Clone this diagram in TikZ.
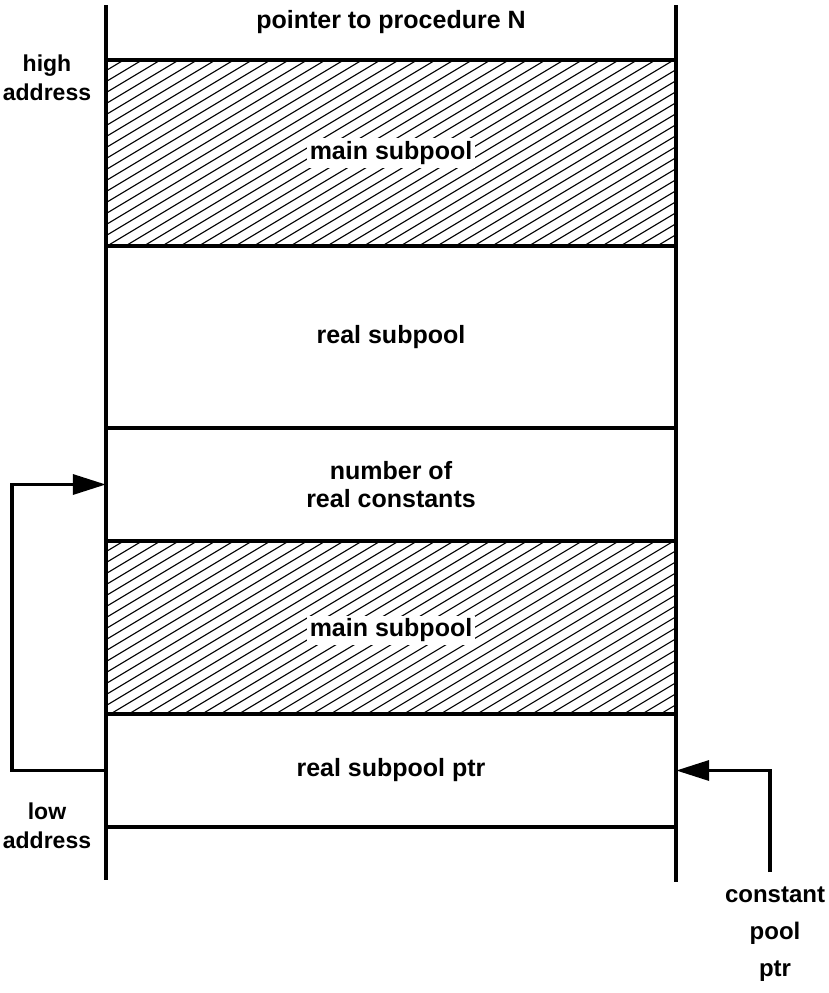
\documentclass[tikz,border=0pt]{standalone}
\usepackage{fontspec}
\setmainfont{Liberation Sans}
\usetikzlibrary{arrows.meta}
\begin{document}
\begin{tikzpicture}[x=1pt,y=-1pt,
    font=\fontsize{25}{28}\selectfont\bfseries,
    wall/.style={line width=3.5pt},
    hatch/.style={line width=1.1pt},
    cell/.style={minimum width=570pt, inner sep=0pt, align=center},
    patchtext/.style={fill=white, inner sep=3pt},
    ptr/.style={line width=3.5pt, -{Triangle[length=33pt,width=20pt]}},
    side/.style={align=center, inner sep=0pt, font=\fontsize{23}{29}\selectfont\bfseries}]
    \useasboundingbox (0,0) rectangle (828,993);

    % memory cells, top to bottom
    \node[cell, minimum height=55] (top) at (391,32) {};
    \node at (391,22) {pointer to procedure N};
    \node[cell, minimum height=186] (main1) at (391,153) {};
    \node[cell, minimum height=182] (real) at (391,337) {real subpool};
    \node[cell, minimum height=113] (num) at (391,484.5) {number of\\real constants};
    \node[cell, minimum height=173] (main2) at (391,627.5) {};
    \node[cell, minimum height=113] (ptr) at (391,770.5) {real subpool ptr};

    % hatching
    \foreach \h in {main1,main2} {
        \begin{scope}
            \clip (\h.north west) rectangle (\h.south east);
            \foreach \c in {0,11,...,550}
                \draw[hatch] ([yshift=-\c pt]\h.north west) -- ++(570,-342);
        \end{scope}
    }
    \node[patchtext] at (main1) {main subpool};
    \node[patchtext] at ([yshift=-3pt]main2) {main subpool};

    % walls
    \draw[wall] (106,5) -- (106,880);
    \draw[wall] (676,5) -- (676,882);
    \foreach \y in {60,246,428,541,714,827}
        \draw[wall] (106,\y) -- (676,\y);

    % side labels
    \node[side] (high) at (47,78) {high\\address};
    \node[side] (low) at (47,826) {low\\address};
    \node[side, font=\fontsize{24}{37}\selectfont\bfseries] (cpool) at (775,934) {constant\\pool\\ptr};
    \coordinate (cpp) at (770,872);

    % pointers
    \draw[ptr] (ptr.west) -- ++(-94,0) |- (num.west);
    \draw[ptr] (cpp) |- (ptr.east);
\end{tikzpicture}
\end{document}
